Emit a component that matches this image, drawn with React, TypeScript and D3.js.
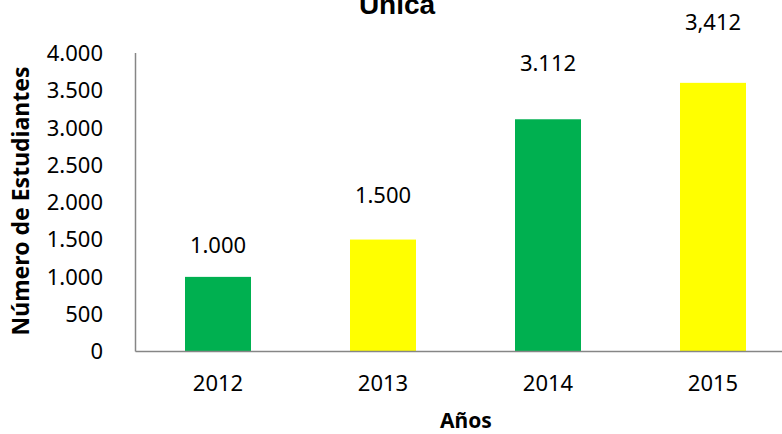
import React from "react";
import * as d3 from "d3";

const categories = ["2012", "2013", "2014", "2015"];
const values = [1000, 1500, 3112, 3600];
const valueLabels = ["1.000", "1.500", "3.112", "3,412"];
const labelAnchors = [1430, 2100, 3870, 4420];
const barColors = ["#00B050", "#FFFF00", "#00B050", "#FFFF00"];
const yTicks = [0, 500, 1000, 1500, 2000, 2500, 3000, 3500, 4000];

const W = 782;
const H = 434;
const left = 135.5;
const bottom = 351.5;
const top = 53;
const band = 165;

export default function App() {
  const x = d3
    .scaleBand<string>()
    .domain(categories)
    .range([left, left + band * categories.length])
    .paddingInner(0.6)
    .paddingOuter(0.3);
  const y = d3.scaleLinear().domain([0, 4000]).range([bottom, top]);
  const fmt = (v: number) => d3.format(",")(v).replace(/,/g, ".");
  const font = "'Noto Sans', sans-serif";

  return (
    <svg
      width={W}
      height={H}
      style={{ position: "absolute", left: 0, top: 0, background: "#fff" }}
    >
      <text
        x={397}
        y={14}
        textAnchor="middle"
        fontFamily="'Liberation Sans', Arial, sans-serif"
        fontWeight="bold"
        fontSize={28}
        fill="#000"
      >
        Única
      </text>
      {categories.map((c, i) => (
        <rect
          key={c}
          x={x(c)}
          y={y(values[i])}
          width={x.bandwidth()}
          height={bottom - y(values[i])}
          fill={barColors[i]}
        />
      ))}
      <line x1={left} x2={left} y1={top} y2={bottom} stroke="#868686" strokeWidth={1.5} />
      <line x1={left} x2={W} y1={bottom} y2={bottom} stroke="#868686" strokeWidth={1.5} />
      {yTicks.map((t) => (
        <text
          key={t}
          x={103}
          y={y(t)}
          dy="0.36em"
          textAnchor="end"
          fontFamily={font}
          fontSize={22}
          fill="#000"
        >
          {fmt(t)}
        </text>
      ))}
      {categories.map((c) => (
        <text
          key={c}
          x={(x(c) as number) + x.bandwidth() / 2}
          y={391}
          textAnchor="middle"
          fontFamily={font}
          fontSize={22}
          fill="#000"
        >
          {c}
        </text>
      ))}
      {categories.map((c, i) => (
        <text
          key={c}
          x={(x(c) as number) + x.bandwidth() / 2}
          y={y(labelAnchors[i])}
          dy="0.36em"
          textAnchor="middle"
          fontFamily={font}
          fontSize={22}
          fill="#000"
        >
          {valueLabels[i]}
        </text>
      ))}
      <text
        x={466}
        y={428}
        textAnchor="middle"
        fontFamily={font}
        fontWeight="bold"
        fontSize={21}
        fill="#000"
      >
        Años
      </text>
      <text
        transform={`translate(29,${201}) rotate(-90)`}
        textAnchor="middle"
        fontFamily={font}
        fontWeight="bold"
        fontSize={23}
        fill="#000"
      >
        Número de Estudiantes
      </text>
    </svg>
  );
}
